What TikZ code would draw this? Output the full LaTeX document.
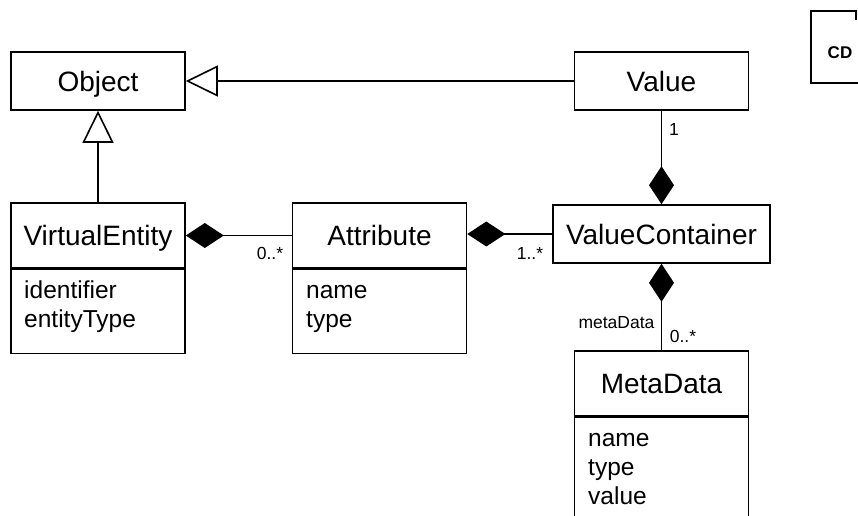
\documentclass[tikz,border=0pt]{standalone}
\usepackage{fontspec}
\setmainfont{Liberation Sans}
\usetikzlibrary{arrows.meta}
\tikzset{
  class_node/.style = {draw=black, line width=1.6pt, align=center, inner sep=0pt,
    minimum width=174pt, minimum height=58pt, text height=22pt, text depth=2pt,
    font=\fontsize{28}{32}\selectfont},% classe simple
  class_head/.style = {class_node, minimum height=65pt},% classe avec attributs, titre
  class_body/.style = {draw=black, line width=1.6pt, inner sep=0pt,
    minimum width=174pt, minimum height=84pt},% classe avec attributs, corps
  attr_text/.style = {anchor=base west, inner sep=0pt,
    font=\fontsize{24.5}{28}\selectfont},% attribut
  mult_text/.style = {inner sep=0pt, font=\fontsize{17.5}{20}\selectfont},% multiplicite
  assoc_line/.style = {line width=1.6pt},
  composition/.style = {assoc_line, -{Diamond[length=38pt, width=25pt, fill=black]}},
  generalization/.style = {assoc_line, -{Triangle[open, length=32pt, width=31pt, fill=white]}}
}
\begin{document}
\begin{tikzpicture}[x=1pt, y=-1pt]
  \clip (0,0) rectangle (858,515);
  \fill[white] (0,0) rectangle (858,515);

  % classes
  \node [class_node] (obj) at (98,81) {Object};
  \node [class_node] (val) at (661.5,81) {Value};
  \node [class_node, minimum width=217pt] (vc) at (661.5,234) {ValueContainer};

  \node [class_head] (ve) at (98,235.5) {VirtualEntity};
  \node [class_body, anchor=north] (veb) at (ve.south) {};
  \node [attr_text] (ve1) at (24,298) {identifier};
  \node [attr_text] (ve2) at (24,327) {entityType};

  \node [class_head] (attr) at (379.5,235.5) {Attribute};
  \node [class_body, anchor=north] (attrb) at (attr.south) {};
  \node [attr_text] (attr1) at (306,298) {name};
  \node [attr_text] (attr2) at (306,327) {type};

  \node [class_head] (md) at (661.5,383.5) {MetaData};
  \node [class_body, anchor=north, minimum height=110pt] (mdb) at (md.south) {};
  \node [attr_text] (md1) at (588,446) {name};
  \node [attr_text] (md2) at (588,475) {type};
  \node [attr_text] (md3) at (588,504) {value};

  % relations
  \draw [generalization] (val.west) -- (obj.east |- val.west);
  \draw [generalization] (ve.north) -- (obj.south);
  \draw [composition] (attr.west) -- (ve.east |- attr.west);
  \draw [composition] (vc.west) -- (attr.east |- vc.west);
  \draw [composition] (val.south) -- (vc.north);
  \draw [composition] (md.north) -- (vc.south);

  % multiplicites
  \node [mult_text] (m1) at (270,253) {0..*};
  \node [mult_text] (m2) at (530,253) {1..*};
  \node [mult_text] (m3) at (674,129) {1};
  \node [mult_text] (m4) at (616.5,323) {metaData};
  \node [mult_text] (m5) at (683,336) {0..*};

  % cadre du diagramme
  \draw [line width=1.6pt] (856,20) -- (856,11) -- (811,11) -- (811,83) -- (870,83);
  \node [inner sep=0pt, font=\fontsize{17}{20}\selectfont\bfseries] (cd) at (840,53) {CD};
\end{tikzpicture}
\end{document}
